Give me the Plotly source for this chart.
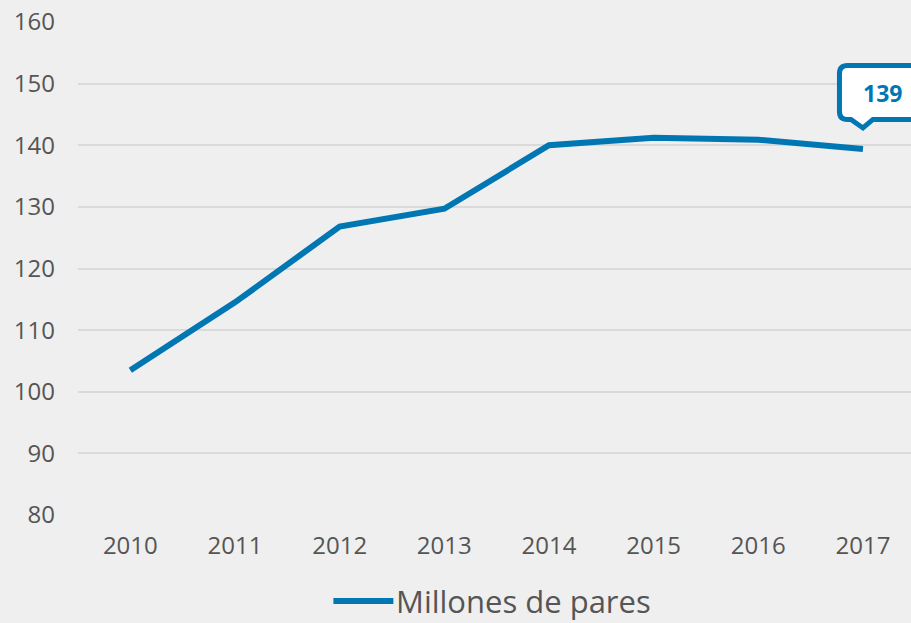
import plotly.graph_objects as go

years = ["2010", "2011", "2012", "2013", "2014", "2015", "2016", "2017"]
pairs_millions = [103.5, 114.5, 126.8, 129.7, 140.0, 141.2, 140.9, 139.4]
series_name = "Millones de pares"
callout_label = "139"
y_ticks = [80, 90, 100, 110, 120, 130, 140, 150, 160]

BLUE = "#0077b3"
BG = "#efefef"
GRID = "#dadada"
TXT = "#555555"
FONT = "Open Sans"

fig = go.Figure()
fig.add_trace(go.Scatter(
    x=years, y=pairs_millions, mode="lines", name=series_name,
    line=dict(color=BLUE, width=6), showlegend=False,
))

last_idx = len(years) - 1
last_val = pairs_millions[-1]

# speech-bubble callout anchored on last point (pixel-sized path)
r = 8
L, R, T, B = -23.5, 66, 83.5, 29.5
tl, tr, tip = -12, 10, 21
path = (f"M{L+r},{T} L{R-r},{T} Q{R},{T} {R},{T-r} L{R},{B+r} Q{R},{B} {R-r},{B} "
        f"L{tr},{B} L0,{tip} L{tl},{B} L{L+r},{B} Q{L},{B} {L},{B+r} "
        f"L{L},{T-r} Q{L},{T} {L+r},{T} Z")
fig.add_shape(type="path", xref="x", yref="y", xsizemode="pixel", ysizemode="pixel",
              xanchor=last_idx, yanchor=last_val, path=path,
              line=dict(color=BLUE, width=5), fillcolor="white", layer="above")
fig.add_annotation(x=last_idx, y=last_val, text=f"<b>{callout_label}</b>",
                   showarrow=False, xshift=20, yshift=56,
                   font=dict(family=FONT, size=23, color=BLUE))

# manual legend
fig.add_shape(type="line", xref="paper", yref="paper", x0=0.3066, x1=0.3786,
              y0=-0.1744, y1=-0.1744, line=dict(color=BLUE, width=6))
fig.add_annotation(xref="paper", yref="paper", x=0.381, y=-0.1744, text=series_name,
                   showarrow=False, xanchor="left", yanchor="middle", borderpad=0,
                   font=dict(family=FONT, size=31, color=TXT))

fig.update_layout(
    width=911, height=623,
    margin=dict(l=77.6, r=0, t=22, b=108, pad=0),
    paper_bgcolor=BG, plot_bgcolor=BG,
    font=dict(family=FONT, color=TXT, size=24),
)
fig.update_xaxes(type="category", range=[-0.5, 7.459], showgrid=False, zeroline=False,
                 showline=False, ticks="", ticklabelstandoff=14,
                 tickfont=dict(family=FONT, size=24, color=TXT))
fig.update_yaxes(range=[80, 160], tickvals=y_ticks, showgrid=True, gridcolor=GRID,
                 gridwidth=2, zeroline=False, showline=False, ticks="",
                 ticklabelstandoff=22, tickfont=dict(family=FONT, size=24, color=TXT))

fig.write_html("out.html", config={"displayModeBar": False},
               post_script="document.body.style.margin='0';document.body.style.background='#efefef';")
